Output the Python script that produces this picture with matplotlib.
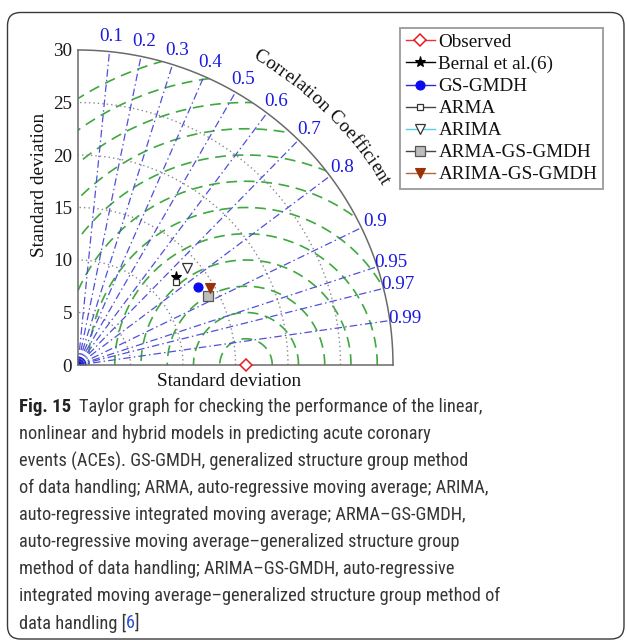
import numpy as np
import matplotlib
matplotlib.use('Agg')
import matplotlib.pyplot as plt
from matplotlib.patches import Wedge, FancyBboxPatch
from matplotlib.lines import Line2D
from matplotlib.font_manager import FontProperties, fontManager

# ---------------- data ----------------
obs_std = 16.0
model_names = ['Bernal et al.(6)', 'GS-GMDH', 'ARMA', 'ARIMA', 'ARMA-GS-GMDH', 'ARIMA-GS-GMDH']
model_std = [12.52, 13.64, 12.25, 13.90, 14.06, 14.57]
model_corr = [0.745, 0.840, 0.762, 0.749, 0.883, 0.863]
corr_ticks = [0.1, 0.2, 0.3, 0.4, 0.5, 0.6, 0.7, 0.8, 0.9, 0.95, 0.97, 0.99]
std_circles = [5, 10, 15, 20, 25]
rms_circles = [2.5, 5, 7.5, 10, 12.5, 15, 17.5, 20, 22.5, 25, 27.5, 30]
ytick_vals = [0, 5, 10, 15, 20, 25, 30]
max_std = 30
legend_order = ['Observed', 'Bernal et al.(6)', 'GS-GMDH', 'ARMA', 'ARIMA', 'ARMA-GS-GMDH', 'ARIMA-GS-GMDH']
caption_lines = [
    "Taylor graph for checking the performance of the linear,",
    "nonlinear and hybrid models in predicting acute coronary",
    "events (ACEs). GS-GMDH, generalized structure group method",
    "of data handling; ARMA, auto-regressive moving average; ARIMA,",
    "auto-regressive integrated moving average; ARMA\u2013GS-GMDH,",
    "auto-regressive moving average\u2013generalized structure group",
    "method of data handling; ARIMA\u2013GS-GMDH, auto-regressive",
    "integrated moving average\u2013generalized structure group method of",
    "data handling [",
]

# ---------------- styles ----------------
styles = {
    'Observed': dict(marker='D', ms=6, mfc='white', mec='#e8191e', color='#f03030', mew=1.1),
    'Bernal et al.(6)': dict(marker='*', ms=8, mfc='black', mec='black', color='black', mew=0.8),
    'GS-GMDH': dict(marker='o', ms=6.5, mfc='#0a0aee', mec='#0a0aee', color='#2a2ae0', mew=0.8),
    'ARMA': dict(marker='s', ms=4.5, mfc='white', mec='#333333', color='#444444', mew=0.9),
    'ARIMA': dict(marker='v', ms=7, mfc='white', mec='#333333', color='#55d0e0', mew=0.9),
    'ARMA-GS-GMDH': dict(marker='s', ms=6.5, mfc='#bdbdbd', mec='#555555', color='#444444', mew=0.9),
    'ARIMA-GS-GMDH': dict(marker='v', ms=7, mfc='#9a3208', mec='#9a3208', color='#b0683a', mew=0.8),
}

W, H = 627, 641
fig = plt.figure(figsize=(W / 100, H / 100), dpi=100)
fig.patch.set_facecolor('white')

serif = 'Liberation Serif'
fs = 13.8

# frame around whole figure (pixel coords via inches)
frame = FancyBboxPatch((7.5 / 100, (H - 639) / 100), (624 - 7.5) / 100, (639 - 12.5) / 100,
                       boxstyle='round,pad=0,rounding_size=0.13',
                       transform=fig.dpi_scale_trans, fc='none', ec='#3a3a3a', lw=1.0,
                       clip_on=False)
fig.patches.append(frame)

ox, oy, R = 78, 365, 315
ax = fig.add_axes([ox / W, (H - oy) / H, R / W, R / H])
ax.set_xlim(0, max_std)
ax.set_ylim(0, max_std)
ax.patch.set_alpha(0)
for s in ['top', 'right']:
    ax.spines[s].set_visible(False)
for s in ['left', 'bottom']:
    ax.spines[s].set_color('#6a6a6a')
    ax.spines[s].set_linewidth(1.1)
ax.set_xticks([])
ax.set_yticks(ytick_vals)
ax.set_yticklabels([str(v) for v in ytick_vals], fontfamily=serif, fontsize=fs, color='#1a1a1a')
ax.tick_params(axis='y', length=0, pad=4.3)

clip = Wedge((0, 0), max_std, 0, 90, transform=ax.transData)

t = np.linspace(0, 2 * np.pi, 721)
# RMS circles (green dashed)
for r in rms_circles:
    ln, = ax.plot(obs_std + r * np.cos(t), r * np.sin(t), ls=(0, (6.5, 4)), color='#3fa83f', lw=1.2, zorder=1)
    ln.set_clip_path(clip)

# std circles (gray dotted)
tq = np.linspace(0, np.pi / 2, 300)
for r in std_circles:
    ax.plot(r * np.cos(tq), r * np.sin(tq), ls=(0, (1, 2.2)), color='#8a8a8a', lw=1.0, zorder=1)

# correlation radial lines (blue dash-dot)
for c in corr_ticks:
    th = np.arccos(c)
    ax.plot([0, max_std * np.cos(th)], [0, max_std * np.sin(th)], ls=(0, (6, 2.5, 1.2, 2.5)),
            color='#5050da', lw=0.9, zorder=1)
    lx, ly = 31.4 * np.cos(th), 31.4 * np.sin(th)
    ax.text(lx, ly, f'{c:g}', color='#1a1ae0', fontfamily=serif, fontsize=fs,
            ha='center', va='center', clip_on=False)

# little blue arcs at the origin
for r in [0.25, 0.5, 0.75]:
    ax.plot(r * np.cos(tq), r * np.sin(tq), color='#2020d0', lw=1.0, zorder=1, clip_on=False)
ax.add_patch(Wedge((0, 0), 0.3, 0, 90, color='#1010c0', zorder=1))

# outer arc
ax.plot(max_std * np.cos(tq), max_std * np.sin(tq), color='#6a6a6a', lw=1.1, clip_on=False, zorder=2)

# observed point
so = styles['Observed']
ax.plot([obs_std], [0], ls='none', marker=so['marker'], ms=so['ms'], mfc=so['mfc'], mec=so['mec'],
        mew=so['mew'], clip_on=False, zorder=5)

# models
for name, sd, c in zip(model_names, model_std, model_corr):
    st = styles[name]
    th = np.arccos(c)
    ax.plot([sd * np.cos(th)], [sd * np.sin(th)], ls='none', marker=st['marker'], ms=st['ms'],
            mfc=st['mfc'], mec=st['mec'], mew=st['mew'], clip_on=False, zorder=5)

# "Correlation Coefficient" along arc
renderer = fig.canvas.get_renderer()
fp = FontProperties(family=serif, size=fs)
label = 'Correlation Coefficient'


def tw(s, f=fp):
    return renderer.get_text_width_height_descent(s, f, ismath=False)[0] if s else 0.0


total = tw(label)
a0, a1 = 60.5, 30.5
rc = 34.0
for i, ch in enumerate(label):
    if ch == ' ':
        continue
    mid = (tw(label[:i]) + tw(label[:i + 1])) / 2
    ang = a0 + (a1 - a0) * mid / total
    ar = np.deg2rad(ang)
    ax.text(rc * np.cos(ar), rc * np.sin(ar), ch, fontfamily=serif, fontsize=fs, color='#111111',
            rotation=ang - 90, rotation_mode='anchor', ha='center', va='center', clip_on=False)

# axis labels
fig.text(229 / W, 1 - 382 / H, 'Standard deviation', fontfamily=serif, fontsize=fs, color='#111111',
         ha='center', va='center')
fig.text(39 / W, 1 - 185 / H, 'Standard deviation', fontfamily=serif, fontsize=fs, color='#111111',
         ha='center', va='center', rotation=90)

# legend
handles = []
for name in legend_order:
    st = styles[name]
    handles.append(Line2D([0], [0], color=st['color'], lw=1.0, marker=st['marker'], ms=st['ms'],
                          mfc=st['mfc'], mec=st['mec'], mew=st['mew']))
leg = fig.legend(handles, legend_order, loc='upper left', bbox_to_anchor=(400 / W, 1 - 28 / H),
                 bbox_transform=fig.transFigure, prop=dict(family=serif, size=fs),
                 frameon=True, fancybox=False, borderpad=0.3, labelspacing=0.24,
                 handlelength=1.5, handletextpad=0.2, borderaxespad=0)
leg.get_frame().set_edgecolor('#8a8a8a')
leg.get_frame().set_linewidth(1.4)
for txt in leg.get_texts():
    txt.set_color('#111111')

# caption
names_avail = {f.name for f in fontManager.ttflist}
cap_family = 'Lato'
for cand in ['Roboto Condensed', 'Open Sans Condensed', 'Noto Sans Condensed', 'Liberation Sans Narrow',
             'DejaVu Sans Condensed', 'Lato', 'Roboto']:
    if cand in names_avail:
        cap_family = cand
        break
target_w = 478.0
fp_cap = FontProperties(family=cap_family, size=10)
w10 = tw(caption_lines[7], fp_cap)
cap_fs = 10 * target_w / w10
cap_color = '#363636'
x0 = 19
y_first = 407
pitch = 27.0
fp_bold = FontProperties(family=cap_family, size=cap_fs * 1.02, weight='bold')
fpc = FontProperties(family=cap_family, size=cap_fs)
bold_txt = 'Fig. 15'
bw = tw(bold_txt, fp_bold)
for i, line in enumerate(caption_lines):
    y = 1 - (y_first + i * pitch) / H
    if i == 0:
        fig.text(x0 / W, y, bold_txt, fontproperties=fp_bold, color='#222222', ha='left', va='center')
        fig.text((x0 + bw + 8) / W, y, line, fontproperties=fpc, color=cap_color,
                 ha='left', va='center')
    elif i == len(caption_lines) - 1:
        w1 = tw(line, fpc)
        w2 = tw('6', fpc)
        fig.text(x0 / W, y, line, fontproperties=fpc, color=cap_color, ha='left', va='center')
        fig.text((x0 + w1) / W, y, '6', fontproperties=fpc, color='#2b4fd6', ha='left', va='center')
        fig.text((x0 + w1 + w2) / W, y, ']', fontproperties=fpc, color=cap_color, ha='left', va='center')
    else:
        fig.text(x0 / W, y, line, fontproperties=fpc, color=cap_color, ha='left', va='center')

fig.savefig('out.png', dpi=100, facecolor='white')
